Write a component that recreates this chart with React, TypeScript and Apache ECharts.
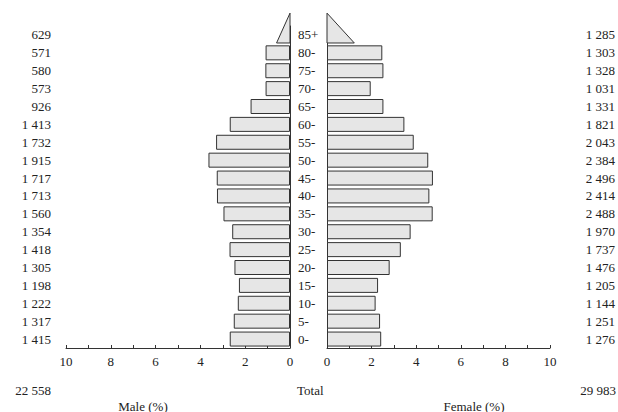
import React, { useEffect, useRef } from "react";
import * as echarts from "echarts";

const ageGroups = ["0-", "5-", "10-", "15-", "20-", "25-", "30-", "35-", "40-", "45-", "50-", "55-", "60-", "65-", "70-", "75-", "80-", "85+"];
const maleCounts = [1415, 1317, 1222, 1198, 1305, 1418, 1354, 1560, 1713, 1717, 1915, 1732, 1413, 926, 573, 580, 571, 629];
const femaleCounts = [1276, 1251, 1144, 1205, 1476, 1737, 1970, 2488, 2414, 2496, 2384, 2043, 1821, 1331, 1031, 1328, 1303, 1285];
// share of total population (%)
const malePct = [2.69, 2.51, 2.33, 2.28, 2.48, 2.70, 2.58, 2.97, 3.26, 3.27, 3.64, 3.30, 2.69, 1.76, 1.09, 1.10, 1.09, 1.20];
const femalePct = [2.43, 2.38, 2.18, 2.29, 2.81, 3.31, 3.75, 4.74, 4.59, 4.75, 4.54, 3.89, 3.47, 2.53, 1.96, 2.53, 2.48, 2.45];
const maleTotal = "22 558";
const femaleTotal = "29 983";
const totalLabel = "Total";
const maleAxisName = "Male (%)";
const femaleAxisName = "Female (%)";

const FONT = "Liberation Serif";
const TXT = "#222";
const LINE = "#333";
const FILL = "#e6e6e6";

const fmt = (n: number) => String(n).replace(/\B(?=(\d{3})+(?!\d))/g, " ");

const lastIdx = ageGroups.length - 1;

export default function App() {
  const ref = useRef<HTMLDivElement>(null);
  useEffect(() => {
    if (!ref.current) return;
    const chart = echarts.init(ref.current, null, { renderer: "svg" });

    const triangle = (side: "left" | "right") => (params: any, api: any) => {
      const v = api.value(0);
      const cat = api.value(1);
      const p0 = api.coord([0, cat]);
      const p1 = api.coord([v / 2, cat]);
      const band = api.size([0, 1])[1];
      const base = p0[1] + 0.45 * band;
      const apex = p0[1] - 1.22 * band;
      return {
        type: "polygon",
        shape: { points: [[p0[0], apex], [p0[0], base], [p1[0], base]] },
        style: { fill: FILL, stroke: LINE, lineWidth: 1 },
      };
    };

    const xAxisCommon = {
      type: "value",
      min: 0,
      max: 10,
      interval: 1,
      axisLine: { show: true, lineStyle: { color: LINE, width: 1 } },
      axisTick: { show: true, inside: true, length: 3, lineStyle: { color: LINE } },
      splitLine: { show: false },
      axisLabel: {
        fontFamily: FONT,
        fontSize: 13,
        color: TXT,
        margin: 7,
        formatter: (v: number) => (v % 2 === 0 ? String(v) : ""),
      },
    };

    const option: any = {
      animation: false,
      backgroundColor: "#fff",
      grid: [
        { left: 66, right: 328, top: 26, bottom: 64 },
        { left: 327, right: 67, top: 26, bottom: 64 },
      ],
      xAxis: [
        { ...xAxisCommon, gridIndex: 0, inverse: true },
        { ...xAxisCommon, gridIndex: 1 },
      ],
      yAxis: [
        {
          type: "category",
          gridIndex: 0,
          data: ageGroups,
          position: "right",
          axisLine: { show: true, lineStyle: { color: LINE, width: 1 } },
          axisTick: { show: false },
          axisLabel: { show: false },
        },
        {
          type: "category",
          gridIndex: 1,
          data: ageGroups,
          position: "left",
          axisLine: { show: true, lineStyle: { color: LINE, width: 1 } },
          axisTick: { show: false },
          axisLabel: {
            show: true,
            align: "left",
            margin: 29,
            fontFamily: FONT,
            fontSize: 13,
            color: TXT,
          },
        },
        {
          type: "category",
          gridIndex: 0,
          data: ageGroups,
          position: "left",
          axisLine: { show: false },
          axisTick: { show: false },
          axisLabel: {
            show: true,
            margin: 15,
            fontFamily: FONT,
            fontSize: 13,
            color: TXT,
            formatter: (_v: string, i: number) => fmt(maleCounts[i]),
          },
        },
        {
          type: "category",
          gridIndex: 1,
          data: ageGroups,
          position: "right",
          axisLine: { show: false },
          axisTick: { show: false },
          axisLabel: {
            show: true,
            align: "right",
            margin: 65,
            fontFamily: FONT,
            fontSize: 13,
            color: TXT,
            formatter: (_v: string, i: number) => fmt(femaleCounts[i]),
          },
        },
      ],
      series: [
        {
          type: "bar",
          xAxisIndex: 0,
          yAxisIndex: 0,
          barWidth: 15,
          data: malePct.map((v, i) => (i === lastIdx ? "-" : v)),
          itemStyle: { color: FILL, borderColor: LINE, borderWidth: 1 },
          z: 1,
        },
        {
          type: "bar",
          xAxisIndex: 1,
          yAxisIndex: 1,
          barWidth: 15,
          data: femalePct.map((v, i) => (i === lastIdx ? "-" : v)),
          itemStyle: { color: FILL, borderColor: LINE, borderWidth: 1 },
          z: 1,
        },
        {
          type: "custom",
          xAxisIndex: 0,
          yAxisIndex: 0,
          renderItem: triangle("left"),
          data: [[malePct[lastIdx], lastIdx]],
          z: 3,
          clip: false,
        },
        {
          type: "custom",
          xAxisIndex: 1,
          yAxisIndex: 1,
          renderItem: triangle("right"),
          data: [[femalePct[lastIdx], lastIdx]],
          z: 3,
          clip: false,
        },
      ],
      graphic: [
        { type: "text", x: 51, y: 390, style: { text: maleTotal, font: `13px ${FONT}`, fill: TXT, textAlign: "right", textVerticalAlign: "middle" } },
        { type: "text", x: 297, y: 390, style: { text: totalLabel, font: `13px ${FONT}`, fill: TXT, textAlign: "left", textVerticalAlign: "middle" } },
        { type: "text", x: 616, y: 390, style: { text: femaleTotal, font: `13px ${FONT}`, fill: TXT, textAlign: "right", textVerticalAlign: "middle" } },
        { type: "text", x: 143, y: 406, style: { text: maleAxisName, font: `13px ${FONT}`, fill: TXT, textAlign: "center", textVerticalAlign: "middle" } },
        { type: "text", x: 474, y: 406, style: { text: femaleAxisName, font: `13px ${FONT}`, fill: TXT, textAlign: "center", textVerticalAlign: "middle" } },
      ],
    };
    chart.setOption(option);
    return () => chart.dispose();
  }, []);
  return <div ref={ref} style={{ width: 618, height: 412, position: "absolute", left: 0, top: 0 }} />;
}
